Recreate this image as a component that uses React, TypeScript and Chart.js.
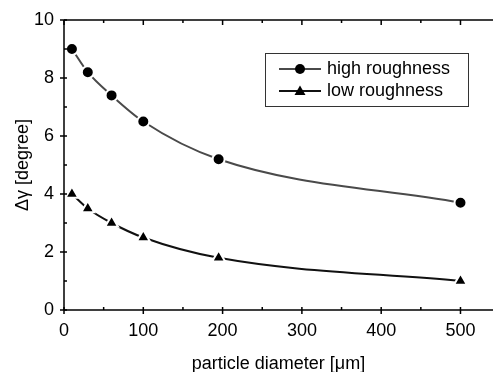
import React, { useEffect, useRef } from "react";
import { Chart, registerables } from "chart.js";

Chart.register(...registerables);

const diameters = [10, 30, 60, 100, 195, 500];
const highRoughness = [9.0, 8.2, 7.4, 6.5, 5.2, 3.7];
const lowRoughness = [4.0, 3.5, 3.0, 2.5, 1.8, 1.0];
const xMajorTicks = [0, 100, 200, 300, 400, 500];
const xMinorTicks = [50, 150, 250, 350, 450];
const yMajorTicks = [0, 2, 4, 6, 8, 10];
const yMinorTicks = [1, 3, 5, 7, 9];
const seriesLabels = ["high roughness", "low roughness"];
const xTitle = "particle diameter [\u03bcm]";
const yTitle = "\u0394\u03b3 [degree]";

const FONT = "'Liberation Sans', Arial, sans-serif";

const framePlugin = {
  id: "frame",
  afterDatasetsDraw(chart: any) {
    const { ctx, chartArea, scales } = chart;
    const xs = scales.x;
    const ys = scales.y;
    const { left, right, top, bottom } = chartArea;
    ctx.save();
    ctx.strokeStyle = "#000";
    ctx.lineWidth = 1.5;
    ctx.beginPath();
    ctx.moveTo(left, top);
    ctx.lineTo(left, bottom);
    ctx.moveTo(left, bottom);
    ctx.lineTo(right, bottom);
    ctx.moveTo(left, top);
    ctx.lineTo(right, top);
    ctx.stroke();
    ctx.beginPath();
    xMajorTicks.forEach((v) => {
      const x = xs.getPixelForValue(v);
      ctx.moveTo(x, bottom - 3);
      ctx.lineTo(x, bottom + 4);
      ctx.moveTo(x, top);
      ctx.lineTo(x, top + 5);
    });
    xMinorTicks.forEach((v) => {
      const x = xs.getPixelForValue(v);
      ctx.moveTo(x, bottom - 3);
      ctx.lineTo(x, bottom);
      ctx.moveTo(x, top);
      ctx.lineTo(x, top + 3);
    });
    yMajorTicks.forEach((v) => {
      const y = ys.getPixelForValue(v);
      ctx.moveTo(left + 3, y);
      ctx.lineTo(left - 4, y);
    });
    yMinorTicks.forEach((v) => {
      const y = ys.getPixelForValue(v);
      ctx.moveTo(left + 3, y);
      ctx.lineTo(left, y);
    });
    ctx.stroke();

    // legend
    const bx = 265, by = 53, bw = 203, bh = 53;
    ctx.fillStyle = "#fff";
    ctx.fillRect(bx, by, bw, bh);
    ctx.lineWidth = 1;
    ctx.strokeStyle = "#333";
    ctx.strokeRect(bx + 0.5, by + 0.5, bw, bh);
    const entries = [
      { y: 69, color: "#4a4a4a", style: "circle" },
      { y: 91, color: "#111", style: "triangle" },
    ];
    entries.forEach((e, i) => {
      ctx.strokeStyle = e.color;
      ctx.lineWidth = 2;
      ctx.beginPath();
      ctx.moveTo(279, e.y);
      ctx.lineTo(321, e.y);
      ctx.stroke();
      ctx.fillStyle = "#000";
      ctx.beginPath();
      if (e.style === "circle") {
        ctx.arc(300, e.y, 5, 0, Math.PI * 2);
      } else {
        ctx.moveTo(300, e.y - 5.5);
        ctx.lineTo(305.5, e.y + 4);
        ctx.lineTo(294.5, e.y + 4);
        ctx.closePath();
      }
      ctx.fill();
      ctx.fillStyle = "#000";
      ctx.font = `18px ${FONT}`;
      ctx.textBaseline = "middle";
      ctx.textAlign = "left";
      ctx.fillText(seriesLabels[i], 327, e.y);
    });
    ctx.restore();
  },
};

export default function App() {
  const ref = useRef<HTMLCanvasElement | null>(null);
  useEffect(() => {
    document.body.style.margin = "0";
    const canvas = ref.current!;
    const zeroPad = (s: any) => {
      s.paddingLeft = 0;
      s.paddingRight = 0;
      s.paddingTop = 0;
      s.paddingBottom = 0;
    };
    const chart = new Chart(canvas, {
      type: "line",
      data: {
        datasets: [
          {
            label: seriesLabels[0],
            data: diameters.map((d, i) => ({ x: d, y: highRoughness[i] })),
            borderColor: "#4a4a4a",
            borderWidth: 2,
            cubicInterpolationMode: "monotone",
            pointStyle: "circle",
            pointRadius: 6,
            pointBackgroundColor: "#000",
            pointBorderColor: "#fff",
            pointBorderWidth: 2,
          },
          {
            label: seriesLabels[1],
            data: diameters.map((d, i) => ({ x: d, y: lowRoughness[i] })),
            borderColor: "#111",
            borderWidth: 2,
            cubicInterpolationMode: "monotone",
            pointStyle: "triangle",
            pointRadius: 7.5,
            pointBackgroundColor: "#000",
            pointBorderColor: "#fff",
            pointBorderWidth: 2,
          },
        ],
      },
      options: {
        animation: false,
        responsive: false,
        devicePixelRatio: 1,
        layout: { autoPadding: false, padding: { top: 20, right: 0, left: 0, bottom: 0 } },
        plugins: { legend: { display: false }, tooltip: { enabled: false } },
        scales: {
          x: {
            type: "linear",
            min: 0,
            max: 541,
            afterBuildTicks: (s: any) => {
              s.ticks = xMajorTicks.map((v) => ({ value: v }));
            },
            afterFit: (s: any) => {
              s.height = 62;
              zeroPad(s);
            },
            grid: { display: false, drawTicks: false },
            border: { display: false },
            ticks: {
              color: "#000",
              font: { family: FONT, size: 18 },
              padding: 10,
              maxRotation: 0,
            },
            title: {
              display: true,
              text: xTitle,
              color: "#000",
              font: { family: FONT, size: 18 },
              padding: { top: 0, bottom: -3 },
            },
          },
          y: {
            type: "linear",
            min: 0,
            max: 10,
            afterBuildTicks: (s: any) => {
              s.ticks = yMajorTicks.map((v) => ({ value: v }));
            },
            afterFit: (s: any) => {
              s.width = 64;
              zeroPad(s);
            },
            grid: { display: false, drawTicks: false },
            border: { display: false },
            ticks: {
              color: "#000",
              font: { family: FONT, size: 18 },
              padding: 10,
            },
            title: {
              display: true,
              text: yTitle,
              color: "#000",
              font: { family: FONT, size: 18 },
              padding: { top: 12, bottom: 0 },
            },
          },
        },
      },
      plugins: [framePlugin],
    } as any);
    return () => chart.destroy();
  }, []);
  return (
    <div style={{ width: 493, height: 372 }}>
      <canvas ref={ref} width={493} height={372} style={{ display: "block" }} />
    </div>
  );
}
